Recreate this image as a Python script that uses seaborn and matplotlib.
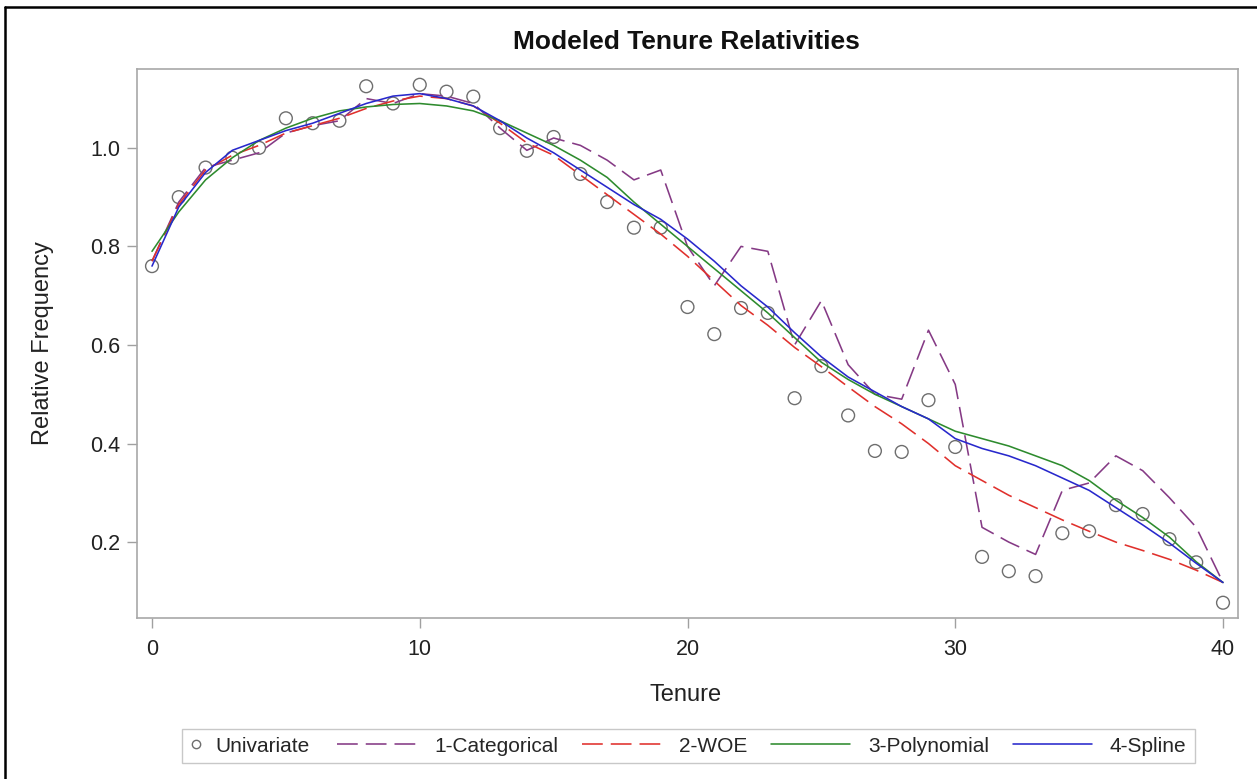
import numpy as np
import pandas as pd
import seaborn as sns
import matplotlib.pyplot as plt
from matplotlib.lines import Line2D
from matplotlib.patches import Rectangle

# Modeled Tenure Relativities
tenure = list(range(41))

univariate = [0.76, 0.90, 0.96, 0.98, 1.00, 1.06, 1.05, 1.055, 1.125, 1.09,
              1.128, 1.114, 1.104, 1.04, 0.994, 1.022, 0.947, 0.89, 0.838, 0.838,
              0.677, 0.622, 0.675, 0.665, 0.492, 0.557, 0.457, 0.385, 0.383, 0.488,
              0.393, 0.17, 0.141, 0.131, 0.218, 0.222, 0.275, 0.257, 0.206, 0.159,
              0.077]

categorical = [0.77, 0.89, 0.96, 0.975, 0.99, 1.03, 1.045, 1.055, 1.10, 1.09,
               1.11, 1.105, 1.09, 1.04, 0.995, 1.02, 1.005, 0.975, 0.935, 0.955,
               0.80, 0.72, 0.80, 0.79, 0.60, 0.69, 0.56, 0.50, 0.49, 0.63,
               0.52, 0.23, 0.20, 0.175, 0.305, 0.32, 0.375, 0.345, 0.29, 0.23,
               0.118]

woe = [0.77, 0.885, 0.955, 0.985, 1.005, 1.03, 1.045, 1.06, 1.08, 1.095,
       1.105, 1.10, 1.085, 1.05, 1.01, 0.985, 0.945, 0.905, 0.865, 0.825,
       0.78, 0.73, 0.68, 0.64, 0.595, 0.556, 0.515, 0.475, 0.44, 0.40,
       0.355, 0.325, 0.295, 0.27, 0.245, 0.222, 0.20, 0.183, 0.165, 0.143,
       0.118]

polynomial = [0.79, 0.87, 0.935, 0.98, 1.015, 1.04, 1.06, 1.075, 1.083, 1.088,
              1.09, 1.085, 1.075, 1.055, 1.03, 1.005, 0.975, 0.94, 0.89, 0.845,
              0.80, 0.755, 0.71, 0.665, 0.615, 0.565, 0.53, 0.50, 0.475, 0.45,
              0.425, 0.41, 0.395, 0.375, 0.355, 0.325, 0.285, 0.25, 0.21, 0.16,
              0.118]

spline = [0.76, 0.88, 0.95, 0.995, 1.015, 1.035, 1.05, 1.07, 1.09, 1.105,
          1.11, 1.10, 1.085, 1.055, 1.02, 0.99, 0.955, 0.92, 0.885, 0.855,
          0.815, 0.77, 0.72, 0.677, 0.625, 0.576, 0.535, 0.505, 0.475, 0.45,
          0.41, 0.39, 0.375, 0.355, 0.33, 0.305, 0.27, 0.235, 0.198, 0.157,
          0.118]

df = pd.DataFrame({"Tenure": tenure, "Univariate": univariate,
                   "1-Categorical": categorical, "2-WOE": woe,
                   "3-Polynomial": polynomial, "4-Spline": spline})

sns.set_style("white")
plt.rcParams["font.family"] = ["Liberation Sans", "DejaVu Sans"]

W, H = 1257, 779
fig = plt.figure(figsize=(W / 100, H / 100), dpi=100)
ax = fig.add_axes([137 / W, 1 - 618 / H, (1238 - 137) / W, (618 - 69) / H])

renk = {"1-Categorical": "#853A85", "2-WOE": "#E0302C",
        "3-Polynomial": "#2E8B2E", "4-Spline": "#2828CC"}
kesik = (13, 5)
lw = 1.15

sns.scatterplot(x="Tenure", y="Univariate", data=df, ax=ax, marker="o", s=85,
                facecolor="none", edgecolor="#6E6E6E", linewidth=1.0, zorder=2)
sns.lineplot(x="Tenure", y="1-Categorical", data=df, ax=ax, color=renk["1-Categorical"],
             linewidth=lw, zorder=3)
ax.lines[-1].set_dashes(kesik)
sns.lineplot(x="Tenure", y="2-WOE", data=df, ax=ax, color=renk["2-WOE"], linewidth=lw, zorder=3)
ax.lines[-1].set_dashes(kesik)
sns.lineplot(x="Tenure", y="3-Polynomial", data=df, ax=ax, color=renk["3-Polynomial"],
             linewidth=lw, zorder=4)
sns.lineplot(x="Tenure", y="4-Spline", data=df, ax=ax, color=renk["4-Spline"],
             linewidth=lw, zorder=5)

ax.set_xlim(-0.56, 40.56)
ax.set_ylim(0.046, 1.160)
ax.set_xticks([0, 10, 20, 30, 40])
ax.set_yticks([0.2, 0.4, 0.6, 0.8, 1.0])
ax.set_yticklabels(["0.2", "0.4", "0.6", "0.8", "1.0"])

for sp in ax.spines.values():
    sp.set_color("#A8A8A8")
    sp.set_linewidth(1.2)
ax.tick_params(axis="both", which="major", direction="out", length=7, width=1,
               color="#A0A0A0", labelsize=15.5, labelcolor="#222222",
               bottom=True, left=True)
ax.tick_params(axis="y", pad=5)
ax.tick_params(axis="x", pad=8)

ax.set_xlabel("Tenure", fontsize=17, color="#222222")
ax.set_ylabel("Relative Frequency", fontsize=17, color="#222222")
ax.xaxis.set_label_coords((686 - 137) / (1238 - 137), (618 - 695) / (618 - 69))
ax.xaxis.label.set_va("center")
ax.yaxis.set_label_coords((43 - 137) / (1238 - 137), 0.5)
ax.yaxis.label.set_va("center")

fig.text(686 / W, 1 - 42 / H, "Modeled Tenure Relativities", ha="center", va="center",
         fontsize=19, fontweight="bold", color="#111111")

# Legend at the bottom: frame + two frameless legends
fig.add_artist(Rectangle((182 / W, 1 - 763 / H), (1195 - 182) / W, (763 - 729) / H,
                         transform=fig.transFigure, facecolor="white",
                         edgecolor="#C8C8C8", linewidth=1.0))
leg_y = 1 - 746 / H

nokta = Line2D([], [], marker="o", linestyle="none", markersize=6,
               markerfacecolor="none", markeredgecolor="#6E6E6E", markeredgewidth=1.0)
leg1 = fig.legend([nokta], ["Univariate"], loc="center left",
                  bbox_to_anchor=(188 / W, leg_y), frameon=False, fontsize=15,
                  handlelength=0.8, handletextpad=0.5, borderpad=0, borderaxespad=0)

cizgiler = []
for ad in ["1-Categorical", "2-WOE", "3-Polynomial", "4-Spline"]:
    h = Line2D([], [], color=renk[ad], linewidth=lw)
    if ad in ("1-Categorical", "2-WOE"):
        h.set_dashes(kesik)
    cizgiler.append(h)
leg2 = fig.legend(cizgiler, ["1-Categorical", "2-WOE", "3-Polynomial", "4-Spline"],
                  loc="center left", bbox_to_anchor=(337 / W, leg_y), ncol=4,
                  frameon=False, fontsize=15, handlelength=3.8, handletextpad=0.85,
                  columnspacing=1.15, borderpad=0, borderaxespad=0)

# outer black border (left and top)
fig.add_artist(Line2D([5 / W, 5 / W], [0, 1 - 7 / H], color="black", linewidth=1.8))
fig.add_artist(Line2D([5 / W, 1], [1 - 7 / H, 1 - 7 / H], color="black", linewidth=1.8))

plt.savefig("out.png", dpi=100)
